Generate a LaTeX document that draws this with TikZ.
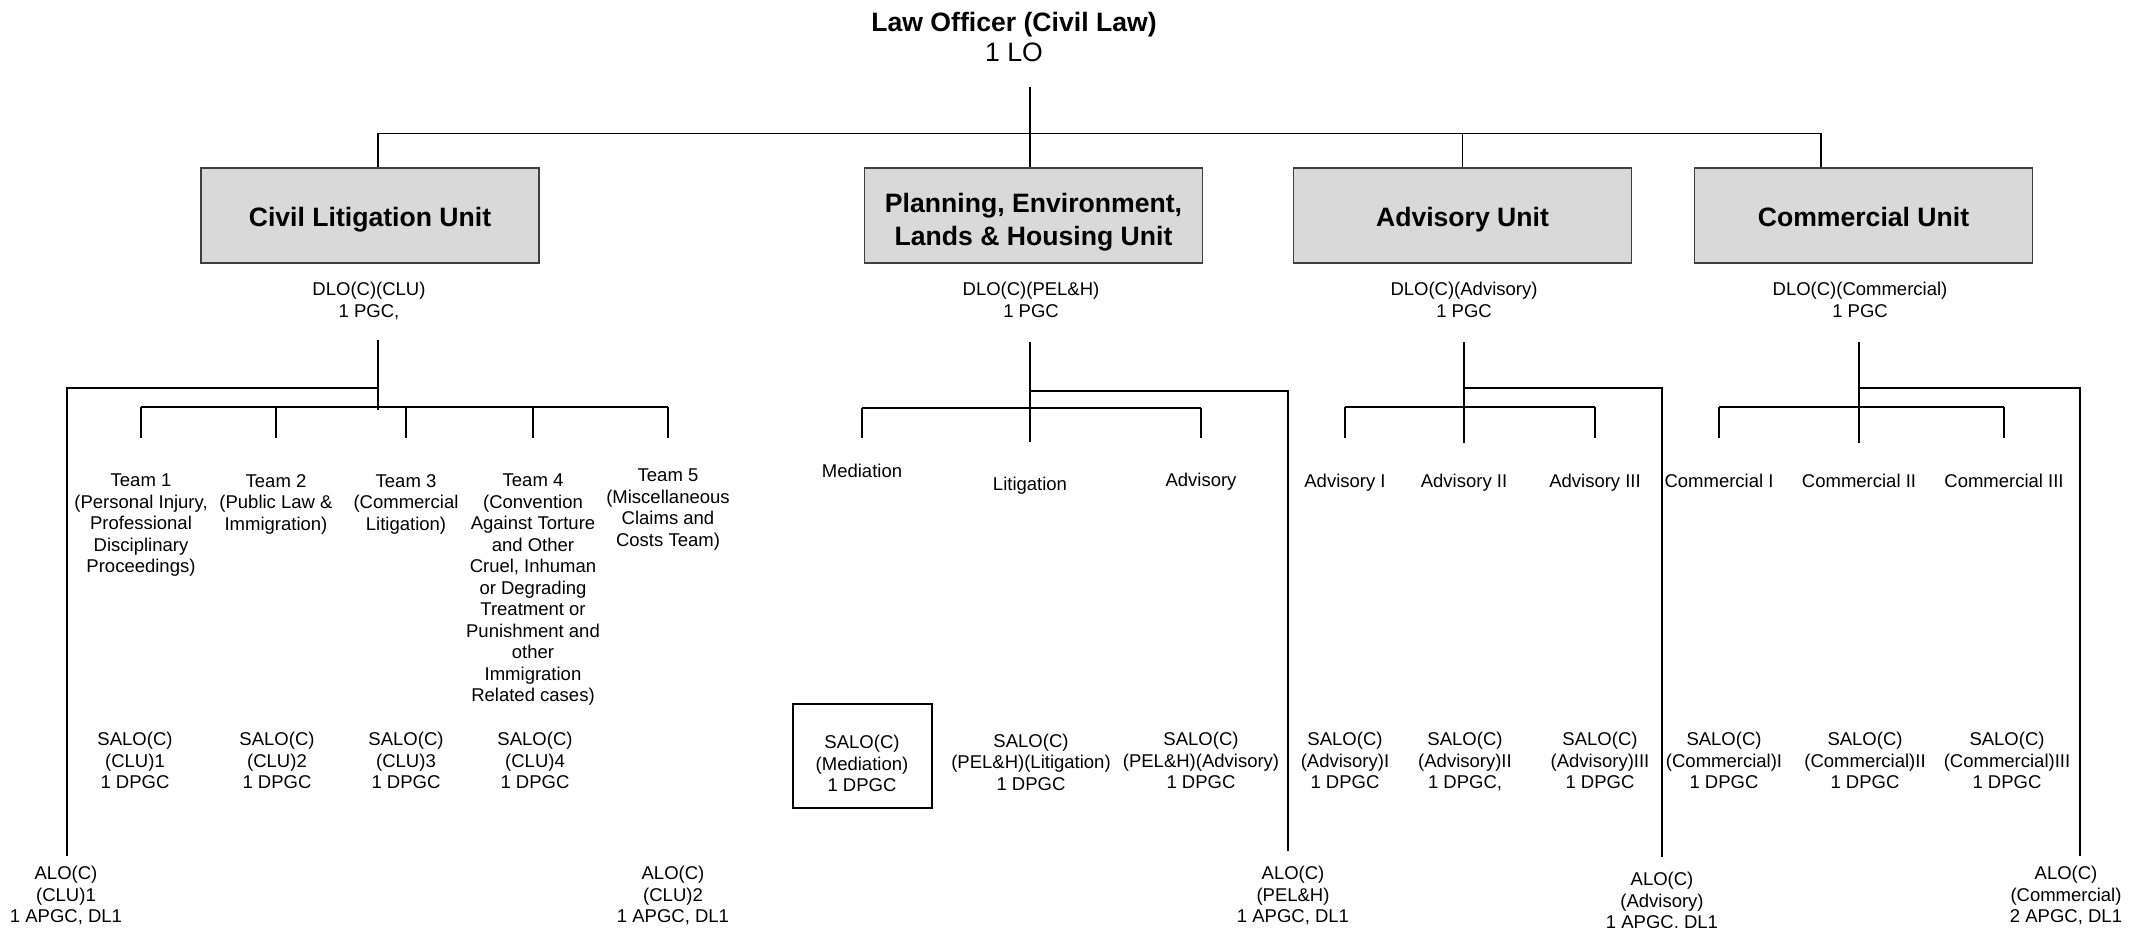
\documentclass[tikz,border=0pt]{standalone}
\usepackage{fontspec}
\setmainfont{Liberation Sans}
\begin{document}
\begin{tikzpicture}[x=0.5pt, y=-0.5pt, line width=0.6pt]
	\tikzstyle{ub} = [draw=black!75, line width=0.7pt, fill=black!15, minimum width=169pt, minimum height=47.5pt]
	\tikzstyle{ubt} = [align=center, inner sep=0pt, font=\fontsize{13.3}{16.2}\selectfont\bfseries]
	\tikzstyle{tx} = [align=center, inner sep=0pt, font=\fontsize{9.25}{10.75}\selectfont]
	\tikzstyle{tn} = [tx, anchor=north]
	\tikzstyle{tb} = [tx, anchor=base]
	\tikzstyle{mb} = [draw, line width=1pt, minimum width=69.5pt, minimum height=52pt]
	\useasboundingbox (0,0) rectangle (2142,927);

	% head
	\node[align=center, inner sep=0pt, anchor=north, font=\fontsize{13.3}{15}\selectfont] (lo) at (1014,12) {\textbf{Law Officer (Civil Law)}\\1 LO};

	% units
	\node[ub] (clu) at (370,215.5) {};
	\node[ub] (pel) at (1033.5,215.5) {};
	\node[ub] (adv) at (1462.5,215.5) {};
	\node[ub] (com) at (1863.5,215.5) {};
	\node[ubt, anchor=base] (cluT) at (370,226) {Civil Litigation Unit};
	\node[ubt, anchor=north] (pelT) at (1033.5,193) {Planning, Environment,\\Lands \& Housing Unit};
	\node[ubt, anchor=base] (advT) at (1462.5,226) {Advisory Unit};
	\node[ubt, anchor=base] (comT) at (1863.5,226) {Commercial Unit};

	\node[tn] (dclu) at (369,281.5) {DLO(C)(CLU)\\1 PGC,};
	\node[tn] (dpel) at (1031,281.5) {DLO(C)(PEL\&H)\\1 PGC};
	\node[tn] (dadv) at (1464,281.5) {DLO(C)(Advisory)\\1 PGC};
	\node[tn] (dcom) at (1860,281.5) {DLO(C)(Commercial)\\1 PGC};

	% teams
	\node[tn] (t1) at (141,473.5) {Team 1\\(Personal Injury,\\Professional\\Disciplinary\\Proceedings)};
	\node[tn] (t2) at (276,473.5) {Team 2\\(Public Law \&\\Immigration)};
	\node[tn] (t3) at (406,473.5) {Team 3\\(Commercial\\Litigation)};
	\node[tn] (t4) at (533,473.5) {Team 4\\(Convention\\Against Torture\\and Other\\Cruel, Inhuman\\or Degrading\\Treatment or\\Punishment and\\other\\Immigration\\Related cases)};
	\node[tn] (t5) at (668,468.5) {Team 5\\(Miscellaneous\\Claims and\\Costs Team)};

	\node[tb] (med) at (862,477) {Mediation};
	\node[tb] (lit) at (1030,490) {Litigation};
	\node[tb] (padv) at (1201,486) {Advisory};
	\node[tb] (a1) at (1345,487) {Advisory I};
	\node[tb] (a2) at (1464,487) {Advisory II};
	\node[tb] (a3) at (1595,487) {Advisory III};
	\node[tb] (c1) at (1719,487) {Commercial I};
	\node[tb] (c2) at (1859,487) {Commercial II};
	\node[tb] (c3) at (2004,487) {Commercial III};

	% salo
	\node[tn] (s1) at (135,731.5) {SALO(C)\\(CLU)1\\1 DPGC};
	\node[tn] (s2) at (277,731.5) {SALO(C)\\(CLU)2\\1 DPGC};
	\node[tn] (s3) at (406,731.5) {SALO(C)\\(CLU)3\\1 DPGC};
	\node[tn] (s4) at (535,731.5) {SALO(C)\\(CLU)4\\1 DPGC};
	\node[mb] (smed) at (862.8,756.3) {};
	\node[tn] (smedT) at (862,734.5) {SALO(C)\\(Mediation)\\1 DPGC};
	\node[tn] (slit) at (1031,733) {SALO(C)\\(PEL\&H)(Litigation)\\1 DPGC};
	\node[tn] (spadv) at (1201,731.5) {SALO(C)\\(PEL\&H)(Advisory)\\1 DPGC};
	\node[tn] (sa1) at (1345,731.5) {SALO(C)\\(Advisory)I\\1 DPGC};
	\node[tn] (sa2) at (1465,731.5) {SALO(C)\\(Advisory)II\\1 DPGC,};
	\node[tn] (sa3) at (1600,731.5) {SALO(C)\\(Advisory)III\\1 DPGC};
	\node[tn] (sc1) at (1724,731.5) {SALO(C)\\(Commercial)I\\1 DPGC};
	\node[tn] (sc2) at (1865,731.5) {SALO(C)\\(Commercial)II\\1 DPGC};
	\node[tn] (sc3) at (2007,731.5) {SALO(C)\\(Commercial)III\\1 DPGC};

	% alo
	\node[tn] (aclu1) at (66,865.5) {ALO(C)\\(CLU)1\\1 APGC, DL1};
	\node[tn] (aclu2) at (673,865.5) {ALO(C)\\(CLU)2\\1 APGC, DL1};
	\node[tn] (apel) at (1293,865.5) {ALO(C)\\(PEL\&H)\\1 APGC, DL1};
	\node[tn] (aadv) at (1662,871.5) {ALO(C)\\(Advisory)\\1 APGC, DL1};
	\node[tn] (acom) at (2066,865.5) {ALO(C)\\(Commercial)\\2 APGC, DL1};

	% top lines
	\coordinate (lotop) at (1030,87);
	\draw (lotop) -- (lotop |- pel.north);
	\draw ([xshift=4pt]clu.north) -- ++(0,-34) -| ([xshift=-21.25pt]com.north);
	\draw (adv.north) -- ++(0,-34);

	% civil litigation
	\coordinate (clu1) at (378,340);
	\coordinate (clu2) at (378,388);
	\coordinate (clu3) at (378,407);
	\draw (clu1) -- ([yshift=-1.5pt]clu3);
	\draw (clu2) -| ([xshift=0.5pt,yshift=4.75pt]aclu1.north);
	\draw (t1 |- clu3) -- (t5 |- clu3);
	\foreach \n in {t1,t2,t3,t4,t5}
		\draw (\n |- clu3) -- ++(0,31);

	% planning
	\coordinate (pel1) at (1030,342);
	\coordinate (pel2) at (1030,391);
	\coordinate (pel3) at (1030,408);
	\draw (pel1) -- ([yshift=-17pt]pel3);
	\draw (pel2) -| ([xshift=-2.5pt,yshift=7.25pt]apel.north);
	\draw (med |- pel3) -- (padv |- pel3);
	\foreach \n in {med,padv}
		\draw (\n |- pel3) -- ++(0,30);

	% advisory
	\coordinate (adv1) at (1464,342);
	\coordinate (adv2) at (1464,388);
	\coordinate (adv3) at (1464,407);
	\draw (adv1) -- ([yshift=-18pt]adv3);
	\draw (adv2) -| ([yshift=7.25pt]aadv.north);
	\draw (a1 |- adv3) -- (a3 |- adv3);
	\foreach \n in {a1,a3}
		\draw (\n |- adv3) -- ++(0,31);

	% commercial
	\coordinate (com1) at (1859,342);
	\coordinate (com2) at (1859,388);
	\coordinate (com3) at (1859,407);
	\draw (com1) -- ([yshift=-18pt]com3);
	\draw (com2) -| ([xshift=7pt,yshift=4.75pt]acom.north);
	\draw (c1 |- com3) -- (c3 |- com3);
	\foreach \n in {c1,c3}
		\draw (\n |- com3) -- ++(0,31);
\end{tikzpicture}
\end{document}
